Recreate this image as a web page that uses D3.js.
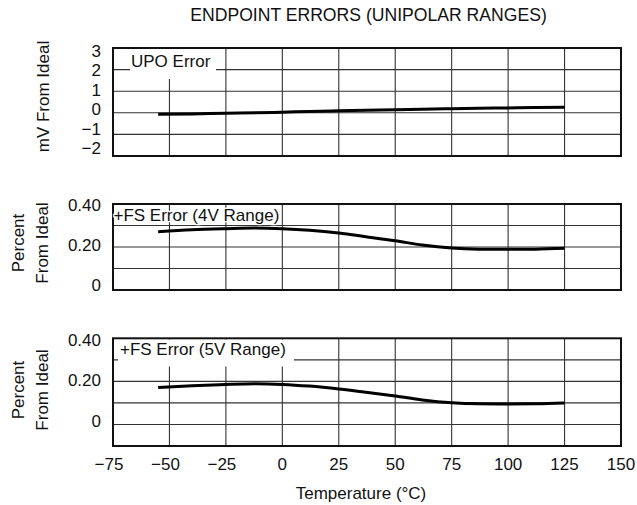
<!DOCTYPE html>
<html><head><meta charset="utf-8">
<script src="https://cdn.jsdelivr.net/npm/d3@7"></script>
<style>
body{margin:0;background:#fff;}
text{font-family:"Liberation Sans",Arial,Helvetica,sans-serif;fill:#111;}
</style></head>
<body><svg id="c" width="637" height="505"></svg>
<script>
// ---- data ----
const temps = [-55, -40, -25, -12, 0, 12, 25, 37, 50, 62, 75, 87, 100, 112, 125];
const upoError = [-0.07, -0.05, -0.02, 0.0, 0.03, 0.06, 0.09, 0.115, 0.14, 0.165, 0.19, 0.21, 0.225, 0.24, 0.26];
const fs4vError = [0.271, 0.280, 0.285, 0.288, 0.285, 0.278, 0.265, 0.248, 0.229, 0.209, 0.195, 0.190, 0.189, 0.190, 0.194];
const fs5vError = [0.172, 0.180, 0.186, 0.189, 0.186, 0.178, 0.165, 0.150, 0.132, 0.114, 0.101, 0.096, 0.095, 0.096, 0.100];
const xTicks = [-75, -50, -25, 0, 25, 50, 75, 100, 125, 150];
const upoTicks = [3, 2, 1, 0, -1, -2];
const pctTicks = [0.4, 0.2, 0];
const title = "ENDPOINT ERRORS (UNIPOLAR RANGES)";
const xTitle = "Temperature (\u00B0C)";

const svg = d3.select("#c");
const x = d3.scaleLinear().domain([-75, 150]).range([113, 621]);
const fmtInt = d => (d < 0 ? "\u2212" + Math.abs(d) : String(d));
const fmtPct = d => (d === 0 ? "0" : d.toFixed(2));

const panels = [
  {values: upoError, domain: [-2, 3], range: [156, 48], step: 1, ticks: upoTicks, fmt: fmtInt,
   labelRange: [148, 50.7], labelDomain: [-2, 3],
   label: "UPO Error", lx: 131, ly: 67, box: [130, 49, 86, 30],
   ytitle: ["mV From Ideal"], ty: 96.5},
  {values: fs4vError, domain: [0, 0.4], range: [290, 204], step: 0.1, ticks: pctTicks, fmt: fmtPct,
   labelRange: [285, 205], labelDomain: [0, 0.4],
   label: "+FS Error (4V Range)", lx: 113.5, ly: 221, box: null,
   ytitle: ["Percent", "From Ideal"], ty: 243},
  {values: fs5vError, domain: [-0.1, 0.4], range: [446, 338.3], step: 0.1, ticks: pctTicks, fmt: fmtPct,
   labelRange: [420.7, 340], labelDomain: [0, 0.4],
   label: "+FS Error (5V Range)", lx: 120, ly: 355, box: [118, 339.5, 176, 27],
   ytitle: ["Percent", "From Ideal"], ty: 390}
];

panels.forEach(p => {
  const y = d3.scaleLinear().domain(p.domain).range(p.range);
  const yl = d3.scaleLinear().domain(p.labelDomain).range(p.labelRange);
  const g = svg.append("g");
  const [x0, x1] = x.range();
  const nH = Math.round((p.domain[1] - p.domain[0]) / p.step);
  const hVals = d3.range(1, nH).map(i => p.domain[0] + i * p.step);
  g.selectAll(".h").data(hVals).join("line")
    .attr("x1", x0).attr("x2", x1).attr("y1", d => y(d)).attr("y2", d => y(d))
    .attr("stroke", "#333").attr("stroke-width", 1.1);
  g.selectAll(".v").data(xTicks.slice(1, -1)).join("line")
    .attr("x1", d => x(d)).attr("x2", d => x(d)).attr("y1", p.range[0]).attr("y2", p.range[1])
    .attr("stroke", "#333").attr("stroke-width", 1.1);
  if (p.box) {
    g.append("rect").attr("x", p.box[0]).attr("y", p.box[1]).attr("width", p.box[2]).attr("height", p.box[3]).attr("fill", "#fff");
  }
  const line = d3.line().x((d, i) => x(temps[i])).y(d => y(d)).curve(d3.curveMonotoneX);
  g.append("path").datum(p.values).attr("d", line)
    .attr("fill", "none").attr("stroke", "#000").attr("stroke-width", 3);
  g.append("rect").attr("x", x0).attr("y", p.range[1]).attr("width", x1 - x0).attr("height", p.range[0] - p.range[1])
    .attr("fill", "none").attr("stroke", "#111").attr("stroke-width", 2);
  g.append("text").attr("x", p.lx).attr("y", p.ly).attr("font-size", 17)
    .attr("stroke", p.box ? "none" : "#fff").attr("stroke-width", 2.5).attr("paint-order", "stroke")
    .text(p.label);
  g.selectAll(".yt").data(p.ticks).join("text")
    .attr("x", 101).attr("y", d => yl(d)).attr("dy", "0.36em")
    .attr("text-anchor", "end").attr("font-size", 17).text(p.fmt);
  const lines = p.ytitle;
  const xs = lines.length === 1 ? [43] : [18, 42];
  lines.forEach((t, i) => {
    g.append("text").attr("transform", `translate(${xs[i]},${p.ty}) rotate(-90)`)
      .attr("text-anchor", "middle").attr("dy", "0.36em").attr("font-size", 17).text(t);
  });
});

svg.selectAll(".xt").data(xTicks).join("text")
  .attr("x", d => x(d) - (d < 0 ? 4 : 0)).attr("y", 464).attr("dy", "0.36em")
  .attr("text-anchor", "middle").attr("font-size", 17).text(fmtInt);
svg.append("text").attr("x", 361).attr("y", 493).attr("dy", "0.36em")
  .attr("text-anchor", "middle").attr("font-size", 17).text(xTitle);
svg.append("text").attr("x", 368.5).attr("y", 21)
  .attr("text-anchor", "middle").attr("font-size", 17.6).text(title);
</script></body></html>
